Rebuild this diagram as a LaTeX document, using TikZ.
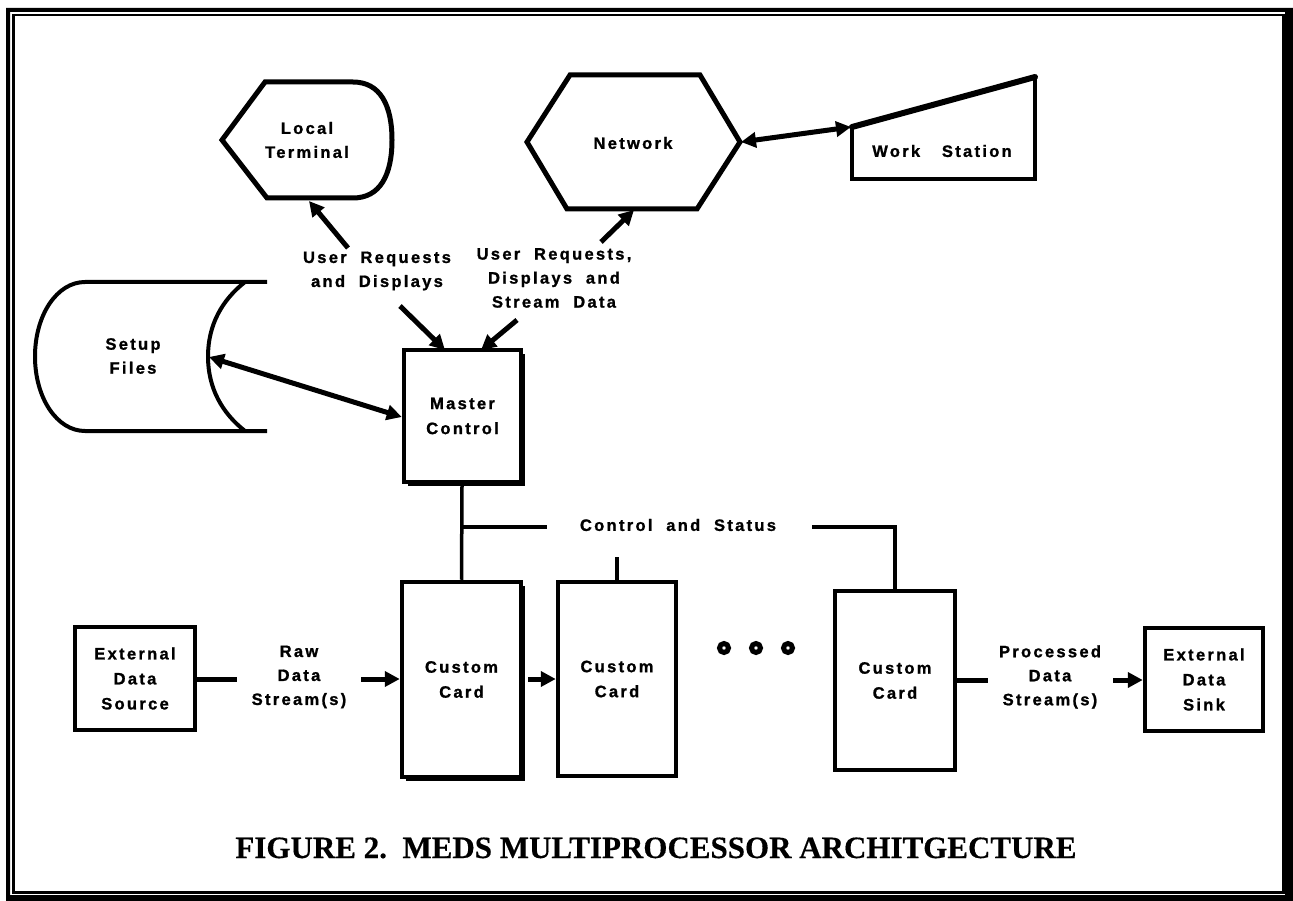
\documentclass[tikz,border=0pt]{standalone}
\usepackage{fontspec}
\setmainfont{Liberation Sans}
\newfontfamily\labfont{Liberation Sans}[UprightFont={* Bold}, BoldFont={* Bold},
  LetterSpace=14, WordSpace=2, FakeBold=1.2]
\newfontfamily\capfont{Liberation Serif}[UprightFont={* Bold}, FakeBold=0.4]
\usetikzlibrary{arrows.meta,shadows}

\begin{document}
\begin{tikzpicture}[x=1pt,y=-1pt,
  lbl/.style={font=\labfont\fontsize{16.5}{24}\selectfont,
              align=center, inner sep=0pt},
  outline/.style={line width=4.5pt, line join=miter},
  box/.style={draw, line width=4.5pt, fill=white, inner sep=0pt,
              font=\labfont\fontsize{16.5}{25}\selectfont, align=center},
  shadowed/.style={drop shadow={shadow xshift=4pt, shadow yshift=-4pt,
              fill=black, opacity=1}},
  conn/.style={line width=5pt},
  bus/.style={line width=3.5pt},
  tip/.tip={Triangle[length=15pt,width=15pt]},
  flow/.style={conn, -tip},
  both/.style={conn, tip-tip},
  ring/.style={draw, circle, line width=5pt, minimum size=9pt, inner sep=0pt}
]
\useasboundingbox (0,0) rectangle (1293,901);

% double frame
\fill[even odd rule] (6,8) rectangle (1293,901) (10,12) rectangle (1285,895);
\draw[line width=2.5pt] (13.5,15) rectangle (1283.5,892.5);

% ---- Local Terminal
\draw[outline, line width=5pt] (265,82) -- (353,82)
  .. controls (380,82) and (392,105) .. (392,140)
  .. controls (392,175) and (380,198) .. (353,198)
  -- (267,198) -- (222,140) -- cycle;
\node[lbl] (lt) at (307,140) {Local\\Terminal};
\coordinate (ltin) at (309,201);

% ---- Network
\draw[outline, line width=5pt] (570,75) -- (700,75) -- (740,142)
  -- (697,209) -- (567,209) -- (527,142) -- cycle;
\node[lbl] (net) at (633,143) {Network};
\coordinate (neteast) at (741,142);
\coordinate (netin) at (634,210);

% ---- Work Station
\draw[outline, line width=4pt] (1035,77) -- (1035,179) -- (852,179) -- (852,127);
\draw[line width=6pt, line cap=round] (852,127) -- (1035,77);
\node[lbl] (ws) at (942,151) {Work\hspace{8pt} Station};
\coordinate (wswest) at (851,127);

% ---- Setup Files
\draw[outline, line width=4pt] (267,282) -- (85,282)
  .. controls (57,282) and (35,315) .. (35,356.5)
  .. controls (35,398) and (57,431) .. (85,431) -- (267,431);
\draw[outline, line width=4pt] (245,282)
  .. controls (222,300) and (208,325) .. (208,356.5)
  .. controls (208,388) and (222,413) .. (245,431);
\node[lbl] (setup) at (133,356) {Setup\\Files};
\coordinate (setupeast) at (209,357);

% ---- Master Control
\node[box, shadowed, minimum width=117pt, minimum height=132pt]
  (mc) at (462.5,416) {Master\\Control};

% ---- labels of the user links
\node[lbl] (ureq) at (377,271) {User Requests\\and Displays};
\node[lbl] (ureqnet) at (554,278) {User Requests,\\Displays and\\Stream Data};
\coordinate (a1) at (348,248);
\coordinate (a2) at (601,242);
\coordinate (a3) at (400,306);
\coordinate (a4) at (517,320);
\coordinate (mctop1) at (445,350);
\coordinate (mctop2) at (481,350);

\draw[flow] (a1) -- (ltin);
\draw[flow] (a2) -- (netin);
\draw[flow] (a3) -- (mctop1);
\draw[flow] (a4) -- (mctop2);
\draw[both] (neteast) -- (wswest);
\draw[both] (setupeast) -- (mc.west |- 0,417);

% ---- processing cards
\node[box, shadowed, minimum width=119pt, minimum height=195pt]
  (card1) at (461.5,679.5) {Custom\\Card};
\node[box, minimum width=118pt, minimum height=194pt]
  (card2) at (617,679) {Custom\\Card};
\node[box, minimum width=120pt, minimum height=179pt]
  (card3) at (895,680.5) {Custom\\Card};

\node[ring] (d1) at (724,648) {};
\node[ring] (d2) at (756,648) {};
\node[ring] (d3) at (788,648) {};

% ---- external source and sink
\node[box, minimum width=120pt, minimum height=103pt]
  (src) at (135,678.5) {External\\Data\\Source};
\node[box, minimum width=118pt, minimum height=103pt]
  (sink) at (1204,679.5) {External\\Data\\Sink};

\node[lbl] (raw) at (299,677) {Raw\\Data\\Stream(s)};
\node[lbl] (proc) at (1050,677) {Processed\\Data\\Stream(s)};

\coordinate (srcend) at (237,679);
\coordinate (rawtail) at (361,679);
\coordinate (c1out) at (528,679);
\coordinate (procstart) at (988,680);
\coordinate (proctail) at (1113,680);

\draw[conn] (src.east |- srcend) -- (srcend);
\draw[flow] (rawtail) -- (card1.west |- rawtail);
\draw[flow] (c1out) -- (card2.west |- c1out);
\draw[conn] (card3.east |- procstart) -- (procstart);
\draw[flow] (proctail) -- (sink.west |- proctail);

% ---- control and status bus
\node[lbl] (cs) at (678,525) {Control and Status};
\coordinate (bj) at (462,527);
\coordinate (bl) at (547,527);
\coordinate (br) at (812,527);
\coordinate (bc) at (895,527);
\coordinate (stub) at (617,557);
\coordinate (mcbot) at (462,486);
\draw[bus] (mcbot) -- (card1.north);
\draw[bus] (bj) -- (bl);
\draw[bus] (br) -- (bc) -- (card3.north);
\draw[bus] (stub) -- (card2.north);

% ---- caption
\node[font=\capfont\fontsize{31}{34}\selectfont, inner sep=0pt, anchor=base]
  (cap) at (656,858) {FIGURE 2.\ \ MEDS MULTIPROCESSOR ARCHITGECTURE};
\end{tikzpicture}
\end{document}
